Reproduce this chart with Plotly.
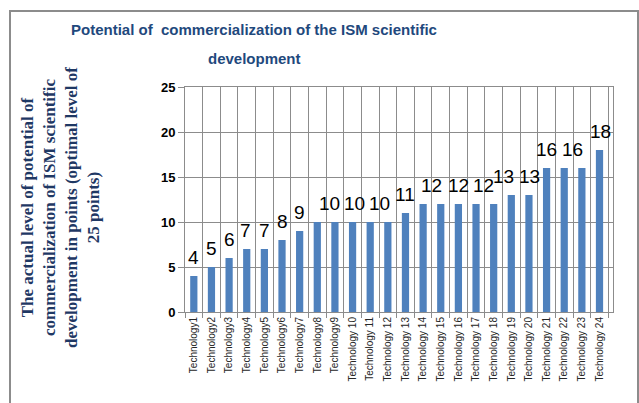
import plotly.graph_objects as go

categories = [f"Technology{i}" for i in range(1, 10)] + [f"Technology {i}" for i in range(10, 25)]
values = [4, 5, 6, 7, 7, 8, 9, 10, 10, 10, 10, 10, 11, 12, 12, 12, 12, 12, 13, 13, 16, 16, 16, 18]
# Data labels that are visible in the reference (others hidden by overlap)
shown = [1, 1, 1, 1, 1, 1, 1, 0, 1, 1, 0, 1, 1, 1, 0, 1, 1, 0, 1, 1, 1, 1, 0, 1]
# small horizontal nudges of the labels (pixels), as laid out in the reference
label_nudge = [0, 0, 0, -1, 0, 0, 0, 0, -5, 2, 0, -8, 0, 8, 0, 0, 7, 0, -8, 1, 0, 8, 0, 1]

title_lines = ["Potential of  commercialization of the ISM scientific", "development"]
y_title = ("The actual level of potential of<br>commercialization of ISM scientific<br>"
           "development in points (optimal level of<br>25 points)")

W, H = 639, 403
L, R, T, B = 185, 26, 87, 91

fig = go.Figure()
fig.add_trace(go.Bar(
    x=categories, y=values,
    marker=dict(color="#4F81BD", line=dict(width=0)),
    hoverinfo="x+y",
))

for cat, v, s, dx in zip(categories, values, shown, label_nudge):
    if s:
        fig.add_annotation(
            x=cat, y=v, text=str(v), showarrow=False,
            xanchor="center", yanchor="bottom", xshift=dx, yshift=6,
            font=dict(family="Liberation Sans, Arial", size=19, color="#000000"),
        )

grid = "#8C8C8C"
fig.update_layout(
    width=W, height=H,
    margin=dict(l=L, r=R, t=T, b=B),
    paper_bgcolor="white", plot_bgcolor="white",
    bargap=0.59,
    showlegend=False,
    xaxis=dict(
        type="category", tickson="boundaries",
        showgrid=True, gridcolor=grid, gridwidth=1,
        showline=True, linecolor=grid, linewidth=1, mirror=True,
        ticks="outside", ticklen=5, tickcolor=grid,
        tickangle=-90,
        tickfont=dict(family="Liberation Sans, Arial", size=10, color="#262626"),
    ),
    yaxis=dict(
        range=[0, 25], dtick=5,
        showgrid=True, gridcolor=grid, gridwidth=1,
        showline=True, linecolor=grid, linewidth=1, mirror=True,
        ticks="outside", ticklen=6, tickcolor=grid,
        zeroline=False,
        tickfont=dict(family="Liberation Sans, Arial", size=13, color="#000000", weight="bold"),
    ),
)

pw, ph = W - L - R, H - T - B

# Title (two lines as in the reference)
title_y_px = [30, 58]
for line, ypx in zip(title_lines, title_y_px):
    fig.add_annotation(
        text=line, xref="paper", yref="paper",
        x=(254 - L) / pw, y=1 + (T - ypx) / ph,
        xanchor="center", yanchor="middle", showarrow=False,
        font=dict(family="Liberation Sans, Arial", size=15, color="#1F497D", weight="bold"),
    )

# Y axis title
fig.add_annotation(
    text=y_title, xref="paper", yref="paper",
    x=(60 - L) / pw, y=1 - (208 - T) / ph,
    xanchor="center", yanchor="middle", textangle=-90, showarrow=False,
    align="center",
    font=dict(family="Liberation Serif, Times New Roman, serif", size=17, color="#1F3864", weight="bold"),
)

# Outer chart frame
fig.add_shape(
    type="rect", xref="paper", yref="paper",
    x0=(10 - L) / pw, x1=(638 - L) / pw,
    y0=-(B + 20) / ph, y1=1 + (T - 11) / ph,
    line=dict(color="#8C8C8C", width=2), fillcolor="rgba(0,0,0,0)", layer="below",
)

fig.write_html("out.html", config={"displayModeBar": False},
               post_script="document.body.style.margin='0';document.body.style.overflow='hidden';")
